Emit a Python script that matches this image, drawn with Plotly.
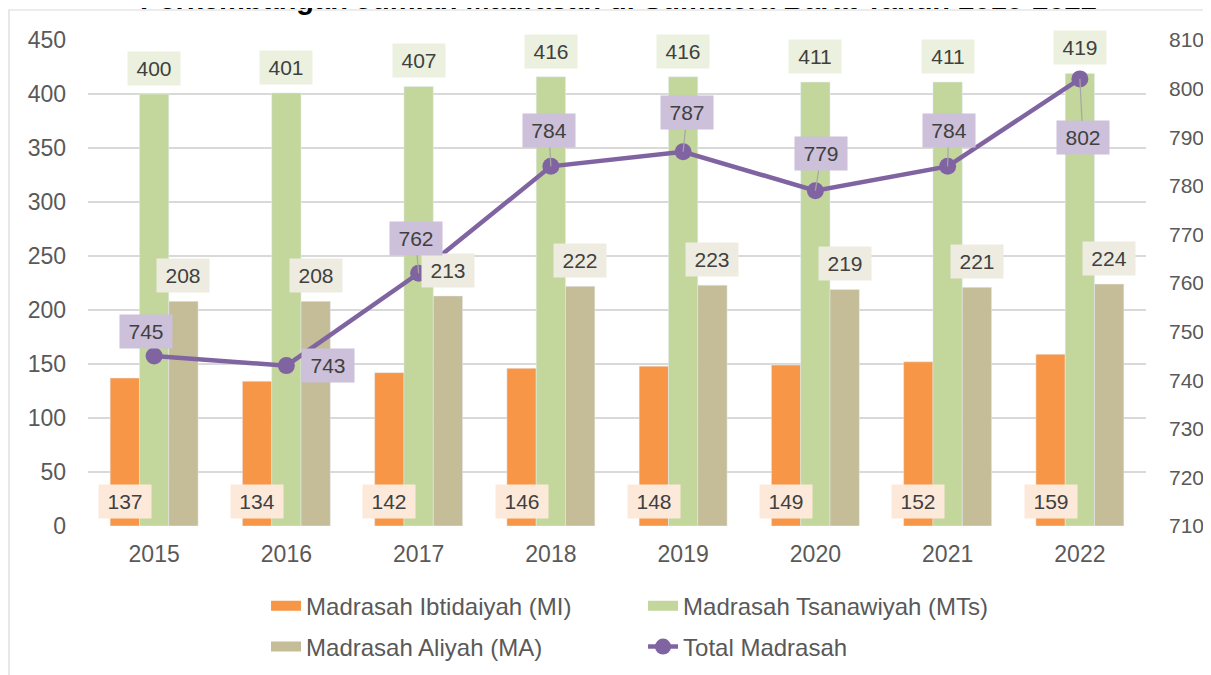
import plotly.graph_objects as go

years = ["2015", "2016", "2017", "2018", "2019", "2020", "2021", "2022"]
mi = [137, 134, 142, 146, 148, 149, 152, 159]
mts = [400, 401, 407, 416, 416, 411, 411, 419]
ma = [208, 208, 213, 222, 223, 219, 221, 224]
total = [745, 743, 762, 784, 787, 779, 784, 802]
names = ["Madrasah Ibtidaiyah (MI)", "Madrasah Tsanawiyah (MTs)", "Madrasah Aliyah (MA)", "Total Madrasah"]
title_text = "Perkembangan Jumlah Madrasah di Sumatera Barat Tahun 2015-2022"

C_MI, C_MTS, C_MA, C_TOT = "#F79646", "#C3D69B", "#C4BD97", "#8064A2"
BG_MI, BG_MTS, BG_MA, BG_TOT = "#FDE9D9", "#EBF1DE", "#EEECE1", "#CCC0DA"
FONT = "Liberation Sans, Arial, sans-serif"
TXT = "#404040"
AX = "#595959"

fig = go.Figure()
bar_series = [(mi, C_MI, "legend"), (mts, C_MTS, "legend"), (ma, C_MA, "legend2")]
for k, (vals, col, lg) in enumerate(bar_series):
    fig.add_trace(go.Bar(x=years, y=vals, name=names[k], marker_color=col, showlegend=False))
fig.add_trace(go.Scatter(x=years, y=total, name=names[3], yaxis="y2", mode="lines+markers",
                         line=dict(color=C_TOT, width=4.5), marker=dict(size=17, color=C_TOT),
                         legend="legend2", legendrank=3))
# legend keys for the bar series (wide rectangular swatches)
for k, (vals, col, lg) in enumerate(bar_series):
    fig.add_trace(go.Scatter(x=[None], y=[None], name=names[k], mode="lines",
                             line=dict(color=col, width=13), legend=lg, legendrank=k,
                             hoverinfo="skip"))

BW = 29.3
anns = []
lab = dict(font=dict(family=FONT, size=21, color=TXT), width=46, height=27, borderpad=3, showarrow=False)
for i in range(len(years)):
    anns.append(dict(x=i, y=0, xref="x", yref="y", text=str(mi[i]), bgcolor=BG_MI,
                     xshift=-BW, yanchor="bottom", yshift=7, **lab))
    anns.append(dict(x=i, y=mts[i], xref="x", yref="y", text=str(mts[i]), bgcolor=BG_MTS,
                     yanchor="bottom", yshift=8, **lab))
    anns.append(dict(x=i, y=ma[i], xref="x", yref="y", text=str(ma[i]), bgcolor=BG_MA,
                     xshift=BW, yanchor="bottom", yshift=8, **lab))

# Total labels: offsets in px of the label box from the point
tot_off = [("s", -8, -24), ("s", 42, 0), ("a", -3, -35), ("a", -2, -36),
           ("a", 4, -39), ("a", 6, -37), ("a", 1, -36), ("a", 3, 59)]
for i in range(len(years)):
    kind, dx, dy = tot_off[i]
    base = dict(x=i, y=total[i], xref="x", yref="y2", text=str(total[i]), bgcolor=BG_TOT,
                font=dict(family=FONT, size=21, color=TXT), width=46, height=27, borderpad=3)
    if kind == "s":
        anns.append(dict(showarrow=False, xshift=dx, yshift=-dy, **base))
    else:
        anns.append(dict(showarrow=True, ax=dx, ay=dy, arrowhead=0, arrowwidth=1.2,
                         arrowcolor="#A6A6A6", standoff=0, **base))

# Chart title (partly above the visible page, as in the reference)
anns.append(dict(x=0.501, y=1.0844, xref="paper", yref="paper", xanchor="center", yanchor="middle",
                 text="<b>" + title_text + "</b>", showarrow=False,
                 font=dict(family=FONT, size=29, color="black")))

leg = dict(orientation="h", xref="container", yref="container", x=0.2145,
           xanchor="left", yanchor="middle", entrywidth=332, traceorder="normal",
           font=dict(family=FONT, size=24, color=AX), bgcolor="rgba(0,0,0,0)")

fig.update_layout(
    width=1203, height=667,
    margin=dict(l=80, r=65, t=32, b=149, autoexpand=False),
    paper_bgcolor="white", plot_bgcolor="white",
    barmode="group", bargap=0.335, bargroupgap=0,
    font=dict(family=FONT, size=21, color=AX),
    xaxis=dict(type="category", range=[-0.5, 7.5], autorange=False, showgrid=False, showline=False,
               ticks="", ticklabelstandoff=12, tickfont=dict(size=23, color=AX), automargin=False),
    yaxis=dict(range=[0, 450], dtick=50, showgrid=True, gridcolor="#D9D9D9", gridwidth=1.5,
               zeroline=False, showline=False, ticks="", ticklabelstandoff=21,
               tickfont=dict(size=23, color=AX), automargin=False),
    yaxis2=dict(range=[710, 810], dtick=10, overlaying="y", side="right", showgrid=False,
                zeroline=False, showline=False, ticks="", ticklabelstandoff=22,
                tickfont=dict(size=21, color=AX), automargin=False),
    legend=dict(y=0.1034, **leg),
    legend2=dict(y=0.042, **leg),
    annotations=anns,
    shapes=[dict(type="rect", xref="paper", yref="paper", x0=-0.0747, x1=1.1, y0=-0.4, y1=1.0617,
                 line=dict(color="#D9D9D9", width=1.2), fillcolor="rgba(0,0,0,0)", layer="below")],
)

fig.write_html("out.html")
